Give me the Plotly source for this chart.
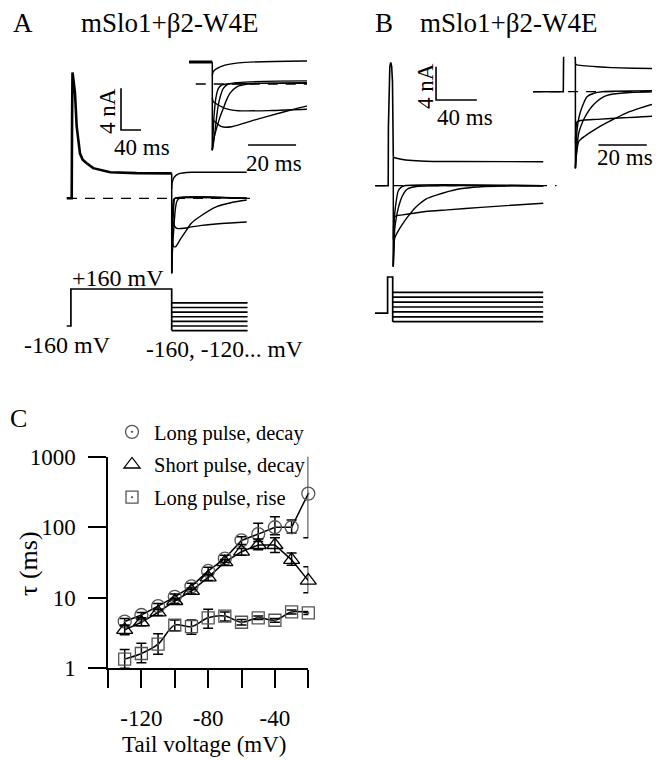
import plotly.graph_objects as go

W, H = 660, 760
FONT = "Liberation Serif"

# ---------------- Panel C data ----------------
tail_voltage = [-130, -120, -110, -100, -90, -80, -70, -60, -50, -40, -30, -20]
tick_voltage = [-140, -120, -100, -80, -60, -40, -20]
tick_voltage_text = ["", "-120", "", "-80", "", "-40", ""]
tick_tau = [1, 10, 100, 1000]
tick_tau_text = ["1", "10", "100", "1000"]

tau_long_decay = [4.6, 5.7, 7.6, 10.3, 14.5, 24, 36, 65, 80, 100, 100, 300]
tau_long_decay_up = [0.5, 0.5, 0.7, 1.0, 1.5, 3, 4, 8, 34, 41, 27, 945]
tau_long_decay_dn = [0.5, 0.5, 0.7, 1.0, 1.5, 3, 4, 8, 17, 22, 17, 229]

tau_short_decay = [3.5, 4.5, 6.2, 9.0, 12.5, 19.5, 32, 45, 56, 56, 34.5, 17.5]
tau_short_decay_up = [0.5, 0.5, 0.6, 0.8, 1.2, 2, 3, 5, 12, 15, 8.5, 10]
tau_short_decay_dn = [0.5, 0.5, 0.6, 0.8, 1.2, 2, 3, 5, 8, 12, 5.5, 5.7]

tau_long_rise = [1.35, 1.62, 2.2, 4.1, 3.9, 5.2, 5.5, 4.5, 5.2, 4.8, 6.3, 6.1]
tau_long_rise_up = [0.5, 0.65, 0.9, 0.75, 0.95, 1.7, 0.8, 0.4, 0.3, 0.3, 0.4, 0.3]
tau_long_rise_dn = [0.35, 0.42, 0.62, 0.7, 0.85, 1.5, 0.8, 0.4, 0.3, 0.3, 0.4, 0.3]

legend_names = ["Long pulse, decay", "Short pulse, decay", "Long pulse, rise"]

# ---------------- Panel A data (ms, nA) ----------------
A_pulse_t = [-10, 0, 0.8, 1.6, 3, 6.6, 10, 16.6, 22, 30, 43, 77, 130, 200]
A_pulse_i = [0, 0, 8, 12.1, 11.6, 10.1, 6.9, 4.3, 3.7, 3.37, 2.9, 2.5, 2.42, 2.4]
A_tail_on = 200
A_step_i = [2.4, -7.2]
A_base_t = [-9.4, 356.6]
A_tails = [
    ([0, 0.4, 2, 5.3, 13.6, 39, 80, 150], [0.9, 1.35, 1.7, 2.05, 2.35, 2.5, 2.5, 2.5]),
    ([0, 0.3, 0.8, 1.5, 2.5, 4, 6, 150], [-7.2, -5.5, -3.2, -1.5, -0.5, -0.1, 0, 0]),
    ([0, 0.5, 1.1, 1.8, 2.5, 3.5, 4.6, 6.7, 150], [-7.2, -6.4, -5.2, -3.6, -2.3, -1.2, -0.47, 0, 0]),
    ([0, 0.6, 1.8, 3.2, 4.6, 6, 7.4, 10.2, 15, 150], [-7.2, -6.0, -4.8, -3.6, -2.64, -1.7, -1.0, -0.3, 0, 0]),
    ([0, 1.1, 3.9, 8.1, 17.8, 28.9, 39.3, 56.6, 90, 120, 150],
     [-3.9, -4.1, -4.64, -4.64, -3.9, -3.1, -2.4, -1.75, -0.8, -0.4, -0.16]),
    ([0, 0.4, 2, 5.3, 10.8, 25, 39.3, 60, 100, 150],
     [-1.5, -1.92, -2.2, -2.64, -2.9, -2.88, -2.75, -2.6, -2.42, -2.28]),
]
A_prot_t = [-8.3, 0, 200, 350.5]
A_hold_mv, A_pulse_mv = -160, 160
tail_mv = [-200, -160, -120, -80, -40, 0, 40]

# ---------------- Panel B data (ms, nA) ----------------
B_pulse_t = [-12.7, 0, 0.2, 0.8, 1.6, 2.5, 3.4, 4.2, 4.8, 5]
B_pulse_i = [0, 0, 7, 12.5, 14.3, 14.8, 14.3, 12.5, 7, 3.5]
B_tail_on = 5
B_step_i = [3.5, -9.7]
B_base_t = [-12.9, 165]
B_tails = [
    ([0, 0.7, 3, 9, 15, 31.7, 60, 147], [3.5, 3.4, 3.3, 3.15, 3.05, 2.93, 2.9, 2.88]),
    ([0, 0.3, 0.7, 1.5, 2.8, 4.8, 7.6, 11, 147], [-9.7, -7, -4.8, -3.2, -1.9, -0.63, -0.2, 0, 0]),
    ([0, 0.5, 1.4, 3, 4.8, 7, 9, 12, 14.5, 22.7, 36, 147],
     [-9.7, -7.5, -5.2, -3.8, -2.73, -1.8, -1.2, -0.6, -0.35, -0.1, 0, 0]),
    ([0, 0.5, 1.4, 4, 9, 15, 21, 27, 32, 43, 63, 86, 110, 147],
     [-9.7, -7.8, -6.3, -5.6, -4.6, -3.6, -2.7, -2.05, -1.6, -1.1, -0.43, -0.12, -0.03, 0]),
    ([0, 0.3, 0.7, 3.4, 9, 19.8, 31.7, 53, 86, 147],
     [-6.5, -4.5, -3.8, -3.6, -3.5, -3.3, -3.1, -2.9, -2.6, -2.1]),
]
B_prot_t = [-12.4, 0, 5, 152.5]
B_hold_mv, B_pulse_mv = -130, 165

# scale bars (value sizes)
bar_nA, bar_ms, inset_bar_ms = 4, 40, 20

fig = go.Figure()
layout = dict(width=W, height=H, margin=dict(l=0, r=0, t=0, b=0, pad=0, autoexpand=False),
              autosize=False, paper_bgcolor="white", plot_bgcolor="rgba(0,0,0,0)", showlegend=True)


def add_axes(n, box, ox, sx, oy, sy, x0=0.0):
    L, T, R, B = box
    layout[f"xaxis{n}"] = dict(domain=[L / W, R / W], range=[x0 + (L - ox) / sx, x0 + (R - ox) / sx],
                               visible=False, fixedrange=True, anchor=f"y{n}", automargin=False)
    layout[f"yaxis{n}"] = dict(domain=[1 - B / H, 1 - T / H], range=[(oy - B) / sy, (oy - T) / sy],
                               visible=False, fixedrange=True, anchor=f"x{n}", automargin=False)


def line(x, y, n, width=1.5, dash=None, shape="linear", color="black"):
    fig.add_trace(go.Scatter(x=x, y=y, mode="lines", xaxis=f"x{n}", yaxis=f"y{n}",
                             line=dict(color=color, width=width, dash=dash, shape=shape,
                                       smoothing=0.7 if shape == "spline" else None),
                             showlegend=False, hoverinfo="skip"))


# axes for drawings
add_axes(2, (55, 62, 258, 285), 71.7, 0.5, 198.3, 10.4)            # A main
add_axes(3, (189, 55, 307, 151), 212.3, 2.4, 84, 9.2, x0=A_tail_on)  # A inset
add_axes(4, (60, 280, 255, 340), 70.9, 0.504, 307.5, 0.1156)        # A protocol
add_axes(5, (370, 55, 565, 275), 388.2, 1.02, 185.7, 8.33)          # B main
add_axes(6, (533, 56.7, 652, 170), 563.3, 2.42, 91.7, 7.9)          # B inset
add_axes(7, (370, 270, 560, 330), 387.6, 1.02, 297.2, 0.1225)       # B protocol

DASH = "10px,8px"

# ---- Panel A main and inset ----
for n, thick in ((2, 2.6), (3, 3.0)):
    line(A_base_t, [0, 0], n, width=1.3, dash=DASH)
    line(A_pulse_t, A_pulse_i, n, width=thick)
    line([A_tail_on, A_tail_on], A_step_i, n, width=1.5)
    for dt, cur in A_tails:
        line([A_tail_on + d for d in dt], cur, n, width=1.4, shape="spline")
# A scale bar
sbA_t, sbA_i = 98.6, 6.57
line([sbA_t, sbA_t, sbA_t + bar_ms], [sbA_i + bar_nA, sbA_i, sbA_i], 2, width=1.6)
line([214.9, 214.9 + inset_bar_ms], [-6.63, -6.63], 3, width=1.6)

# ---- Panel A protocol ----
line([A_prot_t[0], A_prot_t[1], A_prot_t[1], A_prot_t[2], A_prot_t[2]],
     [A_hold_mv, A_hold_mv, A_pulse_mv, A_pulse_mv, min(tail_mv)], 4, width=1.7)
for v in tail_mv:
    line([A_prot_t[2], A_prot_t[3]], [v, v], 4, width=1.7)

# ---- Panel B main and inset ----
for n in (5, 6):
    line(B_base_t, [0, 0], n, width=1.3, dash=DASH)
    line(B_pulse_t, B_pulse_i, n, width=1.6)
    line([B_tail_on, B_tail_on], B_step_i, n, width=1.5)
    for dt, cur in B_tails:
        line([B_tail_on + d for d in dt], cur, n, width=1.4, shape="spline")
sbB_t, sbB_i = 46.9, 10.29
line([sbB_t, sbB_t, sbB_t + bar_ms], [sbB_i + bar_nA, sbB_i, sbB_i], 5, width=1.6)
line([14.5, 14.5 + inset_bar_ms], [-6.75, -6.75], 6, width=1.6)

# ---- Panel B protocol ----
line([B_prot_t[0], B_prot_t[1], B_prot_t[1], B_prot_t[2], B_prot_t[2]],
     [B_hold_mv, B_hold_mv, B_pulse_mv, B_pulse_mv, min(tail_mv)], 7, width=1.7)
for v in tail_mv:
    line([B_prot_t[2], B_prot_t[3]], [v, v], 7, width=1.7)

# ---- Panel C ----
series = [
    (tau_long_decay, tau_long_decay_up, tau_long_decay_dn, "circle-open-dot", 13, "#555555", "linear"),
    (tau_short_decay, tau_short_decay_up, tau_short_decay_dn, "triangle-up-open", 14, "black", "linear"),
    (tau_long_rise, tau_long_rise_up, tau_long_rise_dn, "square-open-dot", 12, "#555555", "spline"),
]
for vals, up, dn, sym, size, col, shape in series:
    fig.add_trace(go.Scatter(x=tail_voltage, y=vals, mode="lines", xaxis="x", yaxis="y",
                             line=dict(color="black", width=1.5, shape=shape),
                             showlegend=False, hoverinfo="skip", cliponaxis=False))
for (vals, up, dn, sym, size, col, shape), name in zip(series, legend_names):
    fig.add_trace(go.Scatter(
        x=tail_voltage, y=vals, mode="markers", name=name, legendgroup=name,
        xaxis="x", yaxis="y", cliponaxis=False,
        marker=dict(symbol=sym, size=size, color=col, line=dict(color=col, width=1.3)),
        error_y=dict(type="data", symmetric=False, array=up, arrayminus=dn,
                     color="black", thickness=1.5, width=5)))

layout["xaxis"] = dict(domain=[108 / W, 308.3 / W], range=[-140, -20], anchor="y",
                       tickvals=tick_voltage, ticktext=tick_voltage_text, automargin=False,
                       ticks="outside", ticklen=18, tickwidth=1.5, tickcolor="black",
                       showline=True, linecolor="black", linewidth=1.5, showgrid=False,
                       zeroline=False, fixedrange=True, ticklabelstandoff=10,
                       tickfont=dict(family=FONT, size=23, color="black"))
layout["yaxis"] = dict(domain=[1 - 668.3 / H, 1 - 456.7 / H], type="log", range=[0, 3], anchor="x",
                       tickvals=tick_tau, ticktext=tick_tau_text, automargin=False,
                       ticks="outside", ticklen=18, tickwidth=1.5, tickcolor="black",
                       showline=True, linecolor="black", linewidth=1.5, showgrid=False,
                       zeroline=False, fixedrange=True, ticklabelstandoff=8,
                       tickfont=dict(family=FONT, size=23, color="black"))
layout["legend"] = dict(x=110 / W, y=1 - 412 / H, xanchor="left", yanchor="top",
                        font=dict(family=FONT, size=20.5, color="black"), itemwidth=34,
                        bgcolor="rgba(0,0,0,0)", tracegroupgap=3, traceorder="grouped",
                        itemclick=False, itemdoubleclick=False)

# ---- text ----
anns = []


def ann(text, x, y, size, angle=0, xanchor="center"):
    anns.append(dict(text=text, x=x / W, y=1 - y / H, xref="paper", yref="paper",
                     xanchor=xanchor, yanchor="middle", showarrow=False, textangle=angle,
                     font=dict(family=FONT, size=size, color="black")))


ann("A", 23, 23, 27)
ann("mSlo1+β2-W4E", 169, 23, 27)
ann("B", 384, 23, 27)
ann("mSlo1+β2-W4E", 508.7, 23, 27)
ann("C", 18, 418, 26)
ann("4 nA", 107, 111, 23, angle=-90)
ann("40 ms", 142, 147, 23)
ann("20 ms", 274, 163, 23)
ann("4 nA", 425, 86, 23, angle=-90)
ann("40 ms", 465, 117.5, 23)
ann("20 ms", 625, 158, 23)
ann("+160 mV", 117.5, 278, 24)
ann("-160 mV", 67.5, 345, 24)
ann("-160, -120... mV", 224, 349, 23.5)
ann("τ (ms)", 28, 564, 26, angle=-90)
ann("Tail voltage (mV)", 203.5, 744, 23)
layout["annotations"] = anns

fig.update_layout(**layout)
fig.write_html("out.html", config={"displayModeBar": False},
               post_script="document.body.style.margin='0px';")
